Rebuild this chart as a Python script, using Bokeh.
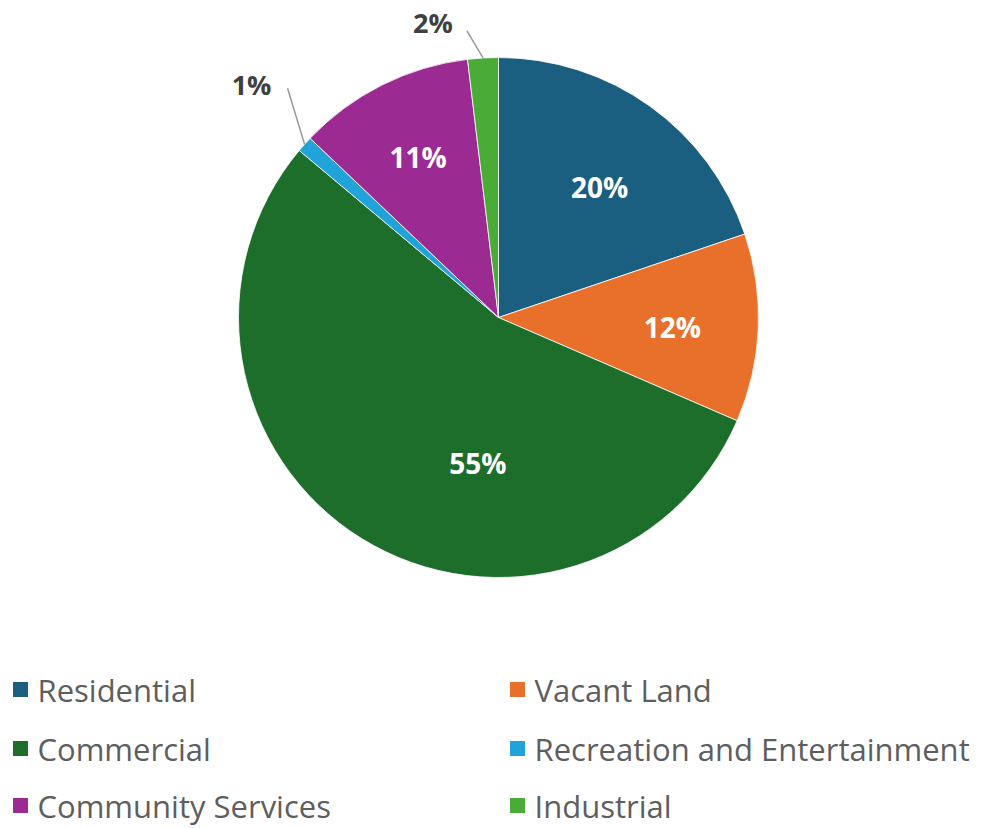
import math
from bokeh.plotting import figure
from bokeh.models import Range1d, ColumnDataSource
from bokeh.core.properties import value
from bokeh.embed import file_html
from bokeh.resources import INLINE

# ---- data ----
categories = ["Residential", "Vacant Land", "Commercial",
              "Recreation and Entertainment", "Community Services", "Industrial"]
shares = [19.8, 11.7, 54.6, 1.0, 11.0, 1.9]
labels = ["20%", "12%", "55%", "1%", "11%", "2%"]
colors = ["#1a5e80", "#e8702a", "#1d6e2b", "#1fa3d8", "#9c2a93", "#4aab37"]

# ---- layout constants ----
W, H = 1000, 828
CX, CY, R = 498, 511, 260
label_inside = [True, True, True, False, True, False]
label_r = [0.635, 0.67, 0.565, None, 0.69, None]
label_frac = [0.53, 0.52, 0.38, None, 0.50, None]
# outside labels: leader end offset (dx, dy) from rim point, label offset from leader end
leader_end = {3: (-17, 56), 5: (-16, 27)}
label_off = {3: (-36, 4), 5: (-34, 8)}

p = figure(width=W, height=H, x_range=Range1d(0, W), y_range=Range1d(0, H),
           output_backend="svg", toolbar_location=None, x_axis_type=None,
           y_axis_type=None, min_border=0, outline_line_color=None)
p.grid.visible = False

total = sum(shares)
starts, ends, mids = [], [], []
cum = 0.0
for s in shares:
    a0 = cum / total
    cum += s
    a1 = cum / total
    starts.append(math.pi / 2 - a0 * 2 * math.pi)
    ends.append(math.pi / 2 - a1 * 2 * math.pi)
    mids.append((a0, a1))

src = ColumnDataSource(dict(start=starts, end=ends, color=colors))
p.wedge(x=CX, y=CY, radius=R, start_angle="start", end_angle="end",
        direction="clock", fill_color="color", line_color="white",
        line_width=0.8, source=src)

font = value("Open Sans")
for i, lab in enumerate(labels):
    a0, a1 = mids[i]
    if label_inside[i]:
        f = a0 + (a1 - a0) * label_frac[i]
        th = math.pi / 2 - f * 2 * math.pi
        x = CX + R * label_r[i] * math.cos(th)
        y = CY + R * label_r[i] * math.sin(th)
        p.text(x=[x], y=[y], text=[lab], text_color="white", text_font=font,
               text_font_style="bold", text_font_size="28px",
               text_align="center", text_baseline="middle")
    else:
        f = (a0 + a1) / 2
        th = math.pi / 2 - f * 2 * math.pi
        ex = CX + R * math.cos(th)
        ey = CY + R * math.sin(th)
        lx = ex + leader_end[i][0]
        ly = ey + leader_end[i][1]
        p.line(x=[ex, lx], y=[ey, ly], line_color="#999999", line_width=1.5)
        p.text(x=[lx + label_off[i][0]], y=[ly + label_off[i][1]], text=[lab],
               text_color="#404040", text_font=font, text_font_style="bold",
               text_font_size="27px", text_align="center", text_baseline="middle")

# ---- legend ----
col_x = [20, 517]
row_y = [139, 80, 23]
for i, cat in enumerate(categories):
    cx = col_x[i % 2]
    cy = row_y[i // 2]
    p.rect(x=[cx], y=[cy], width=15, height=15, fill_color=colors[i], line_color=None)
    p.text(x=[cx + 17], y=[cy], text=[cat], text_color="#5e5e5e", text_font=font,
           text_font_size="31px", text_align="left", text_baseline="middle")

open("out.html", "w").write(file_html(p, INLINE))
